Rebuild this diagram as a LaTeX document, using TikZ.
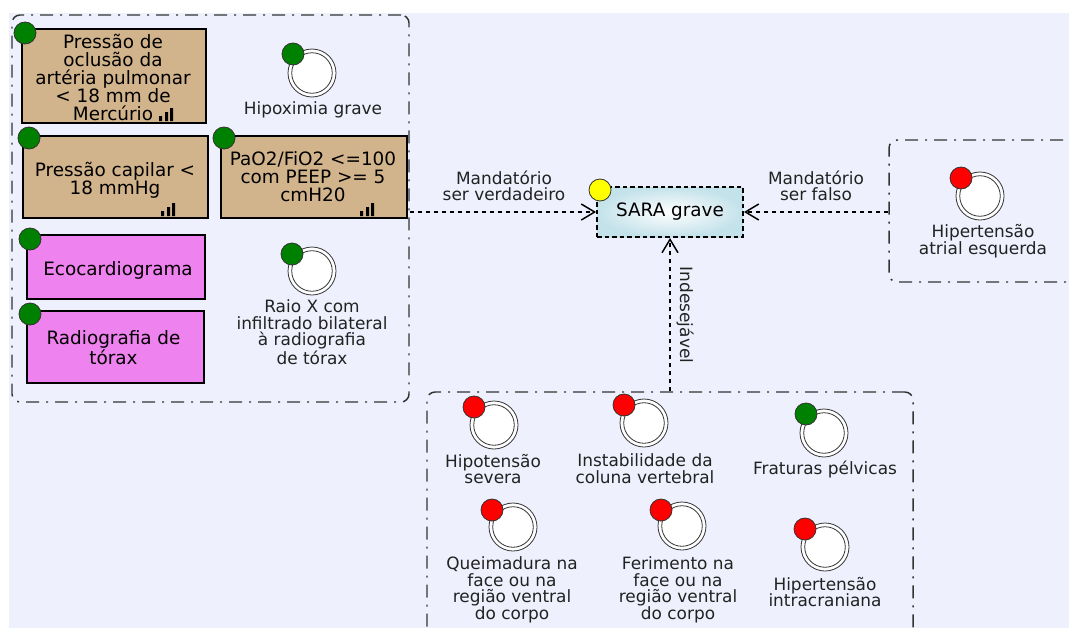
\documentclass[tikz,border=0pt]{standalone}
\usepackage{fontspec}
\setmainfont{DejaVu Sans}
\usetikzlibrary{arrows.meta}

\definecolor{canvas}{RGB}{238,241,253}
\definecolor{tanfill}{RGB}{210,180,140}
\definecolor{violetfill}{RGB}{238,130,238}
\definecolor{flaggreen}{RGB}{0,128,0}
\definecolor{flagred}{RGB}{255,0,0}
\definecolor{flagyellow}{RGB}{255,255,0}
\definecolor{ink}{RGB}{34,34,34}
\definecolor{edge}{RGB}{51,51,51}
\definecolor{sarablue}{RGB}{196,226,234}

\tikzset{
  boxtext/.style={font=\fontsize{13.8pt}{13.5pt}\selectfont, align=center, text=black, inner sep=0pt},
  labtext/.style={font=\fontsize{12.7pt}{12.4pt}\selectfont, align=center, text=ink, inner sep=0pt},
  group/.style={draw=edge, line width=1.1pt, rounded corners=6pt,
    dash pattern=on 9.75pt off 5.25pt on 1.5pt off 5.25pt, inner sep=0pt},
  card/.style={draw=black, line width=1.5pt, inner sep=0pt},
  tancard/.style={card, fill=tanfill},
  violetcard/.style={card, fill=violetfill},
  goal/.style={draw=black, line width=1.5pt, dash pattern=on 3.5pt off 2.2pt, inner sep=0pt,
    boxtext, inner color=white, outer color=sarablue},
  flag/.style={circle, draw=edge, line width=0.6pt, minimum size=16.5pt, inner sep=0pt},
  ring/.style={circle, draw=edge, line width=0.6pt, fill=white, minimum size=36pt, inner sep=0pt,
    path picture={\draw[edge, line width=0.6pt] (path picture bounding box.center) circle[radius=15.2pt];}},
  link/.style={draw=black, line width=2.2pt, dash pattern=on 3pt off 3pt,
    -{Straight Barb[length=10pt,width=12pt,line width=1.1pt]}},
  bars/.pic={
    \fill[black] (-48,-3) rectangle (-45,-8)
                 (-42,-3) rectangle (-39,-12)
                 (-37,-3) rectangle (-34,-16);
  }
}

\begin{document}
\begin{tikzpicture}[x=0.75pt,y=-0.75pt]
\useasboundingbox (0,0) rectangle (1069,628);
\clip (0,0) rectangle (1069,628);
\fill[canvas] (9,13) rectangle (1069,628);

% groups
\node[group, minimum width=297.75pt, minimum height=290.25pt] (g1) at (210.5,208.5) {};
\node[group, minimum width=158.25pt, minimum height=106.5pt] (g2) at (994.5,211) {};
\node[group, minimum width=364.5pt, minimum height=231pt] (g3) at (670,546) {};

% criteria cards
\node[tancard, minimum width=138pt, minimum height=70.5pt] (pa) at (114,76) {};
\node[boxtext] (pa-t) at (113,77.5) {Pressão de\\oclusão da\\artéria pulmonar\\< 18 mm de\\Mercúrio};
\pic at (pa.south east) {bars};
\node[flag, fill=flaggreen] (pa-f) at (25,33) {};

\node[tancard, minimum width=138.75pt, minimum height=61.5pt] (pb) at (115.5,177) {};
\node[boxtext] (pb-t) at (115,180) {Pressão capilar <\\18 mmHg};
\pic at (pb.south east) {bars};
\node[flag, fill=flaggreen] (pb-f) at (29,138) {};

\node[tancard, minimum width=139.5pt, minimum height=61.5pt] (pc) at (314,177) {};
\node[boxtext] (pc-t) at (313,177) {PaO2/FiO2 <=100\\com PEEP >= 5\\cmH20};
\pic at (pc.south east) {bars};
\node[flag, fill=flaggreen] (pc-f) at (224,138) {};

\node[violetcard, minimum width=133.5pt, minimum height=48pt] (pd) at (116,267) {};
\node[boxtext] (pd-t) at (118,270) {Ecocardiograma};
\node[flag, fill=flaggreen] (pd-f) at (30,239) {};

\node[violetcard, minimum width=132.75pt, minimum height=54pt] (pe) at (115.5,347) {};
\node[boxtext] (pe-t) at (113.5,348) {Radiografia de\\tórax};
\node[flag, fill=flaggreen] (pe-f) at (30,314) {};

% conditions in the first group
\node[ring] (hx) at (312,73) {};
\node[flag, fill=flaggreen] (hx-f) at (293,54) {};
\node[labtext] (hx-t) at (313,109.5) {Hipoximia grave};

\node[ring] (rx) at (312,271) {};
\node[flag, fill=flaggreen] (rx-f) at (292,254) {};
\node[labtext] (rx-t) at (312,332) {Raio X com\\infiltrado bilateral\\à radiografia\\de tórax};

% goal
\node[goal, minimum width=109.5pt, minimum height=37.5pt] (sara) at (670,212) {SARA grave};
\node[flag, fill=flagyellow] (sara-f) at (600,190) {};

% right group
\node[ring] (ha) at (980,196) {};
\node[flag, fill=flagred] (ha-f) at (961,178) {};
\node[labtext] (ha-t) at (983,241) {Hipertensão\\atrial esquerda};

% bottom group
\node[ring] (hs) at (494,425) {};
\node[flag, fill=flagred] (hs-f) at (474,407) {};
\node[labtext] (hs-t) at (493,469) {Hipotensão\\severa};

\node[ring] (ic) at (644,423) {};
\node[flag, fill=flagred] (ic-f) at (624,405) {};
\node[labtext] (ic-t) at (645,468.5) {Instabilidade da\\coluna vertebral};

\node[ring] (fp) at (824,433) {};
\node[flag, fill=flaggreen] (fp-f) at (806,414) {};
\node[labtext] (fp-t) at (825,469) {Fraturas pélvicas};

\node[ring] (qf) at (513,527) {};
\node[flag, fill=flagred] (qf-f) at (492,510) {};
\node[labtext] (qf-t) at (512,590) {Queimadura na\\face ou na\\região ventral\\do corpo};

\node[ring] (ff) at (682,526) {};
\node[flag, fill=flagred] (ff-f) at (661,510) {};
\node[labtext] (ff-t) at (678,590) {Ferimento na\\face ou na\\região ventral\\do corpo};

\node[ring] (hi) at (825,547) {};
\node[flag, fill=flagred] (hi-f) at (805,529) {};
\node[labtext] (hi-t) at (825,592) {Hipertensão\\intracraniana};

% connectors
\draw[link] (g1.east |- sara.west) -- (sara.west);
\draw[link] (g2.west |- sara.east) -- (sara.east);
\draw[link] (g3.north) -- (sara.south);

\node[labtext] (l-true) at (504,186) {Mandatório\\ser verdadeiro};
\node[labtext] (l-false) at (816,186) {Mandatório\\ser falso};
\node[labtext, rotate=-90] (l-undes) at (685,315) {Indesejável};
\end{tikzpicture}
\end{document}
